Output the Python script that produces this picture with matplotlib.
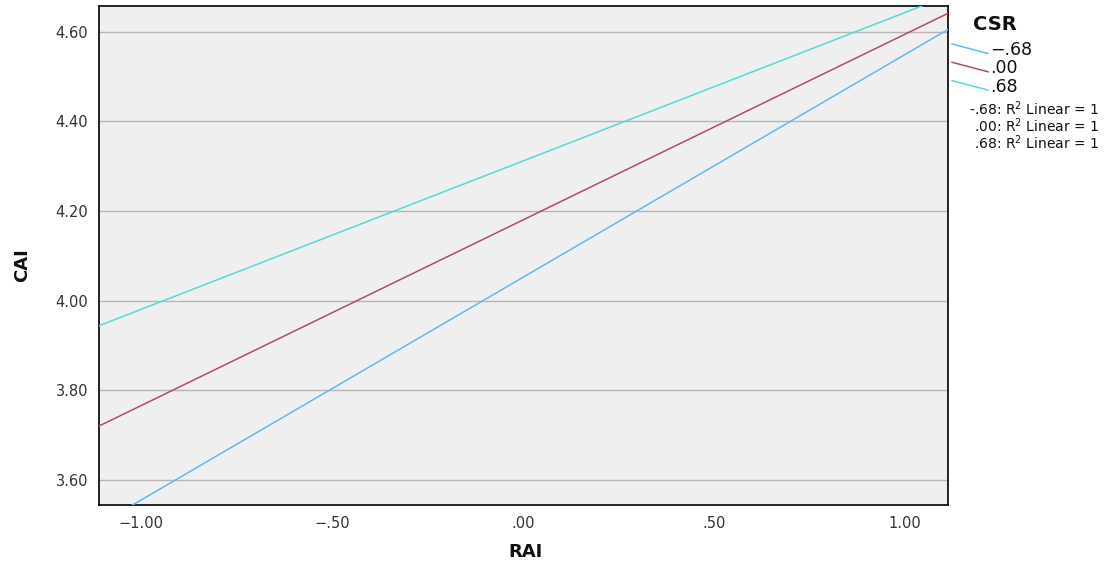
import matplotlib
matplotlib.use("Agg")
import matplotlib.pyplot as plt
from matplotlib.lines import Line2D
import numpy as np

# simple slopes of CAI on RAI at three CSR levels
csr_labels = ["-.68", ".00", ".68"]
rai_range = [-1.11, 1.114]
cai_low = [3.500, 3.720, 3.944]    # CAI at the low end of RAI
cai_high = [4.606, 4.642, 4.681]   # CAI at the high end of RAI
line_colors = ["#62b8f2", "#b34a6c", "#4fdcd8"]
r2_values = ["1", "1", "1"]

yticks = [3.60, 3.80, 4.00, 4.20, 4.40, 4.60]
xticks = [-1.00, -0.50, 0.00, 0.50, 1.00]


def spss_fmt(v):
    s = f"{v:.2f}"
    s = s.replace("0.", ".") if abs(v) < 1 else s
    return s.replace("-", "\u2212")


W, H = 1107, 567
fig = plt.figure(figsize=(W / 100, H / 100), dpi=100)
ax = fig.add_axes([99.3 / W, 1 - 504.7 / H, (948.3 - 99.3) / W, (504.7 - 6) / H])
ax.set_facecolor("#efefef")

for lo, hi, c in zip(cai_low, cai_high, line_colors):
    ax.plot(rai_range, [lo, hi], color=c, linewidth=1.1, zorder=3)

ax.set_xlim(rai_range)
ax.set_ylim(3.544, 4.658)
ax.set_yticks(yticks)
ax.set_yticklabels([spss_fmt(v) for v in yticks])
ax.set_xticks(xticks)
ax.set_xticklabels([spss_fmt(v) for v in xticks])
ax.yaxis.grid(True, color="#b5b5b5", linewidth=1.0, zorder=1)
ax.set_axisbelow(True)
ax.tick_params(length=0, labelsize=10.5, labelcolor="#333333")
ax.tick_params(axis="y", pad=8)
ax.tick_params(axis="x", pad=8)
for sp in ax.spines.values():
    sp.set_color("#111111")
    sp.set_linewidth(1.3)

fig.text(525 / W, 1 - 552 / H, "RAI", ha="center", va="center",
         fontsize=13, fontweight="bold", color="#111111")
fig.text(22 / W, 1 - 265 / H, "CAI", ha="center", va="center", rotation=90,
         fontsize=13, fontweight="bold", color="#111111")

# legend, drawn by hand with slanted keys
fig.text(995 / W, 1 - 24 / H, "CSR", ha="center", va="center",
         fontsize=14, fontweight="bold", color="#111111")
for i, (lab, c) in enumerate(zip(csr_labels, line_colors)):
    y0 = 44 + i * 18.3
    fig.add_artist(Line2D([952 / W, 988 / W], [1 - y0 / H, 1 - (y0 + 9.5) / H],
                          color=c, linewidth=1.1, transform=fig.transFigure))
    fig.text(990 / W, 1 - (y0 + 6) / H, lab.replace("-", "\u2212"),
             ha="left", va="center", fontsize=12.5, color="#111111")

for i, (lab, r2) in enumerate(zip(csr_labels, r2_values)):
    y0 = 109 + i * 17
    fig.text(1099 / W, 1 - y0 / H, f"{lab}: R$^2$ Linear = {r2}",
             ha="right", va="center", fontsize=10, color="#111111")

fig.savefig("out.png", dpi=100)
